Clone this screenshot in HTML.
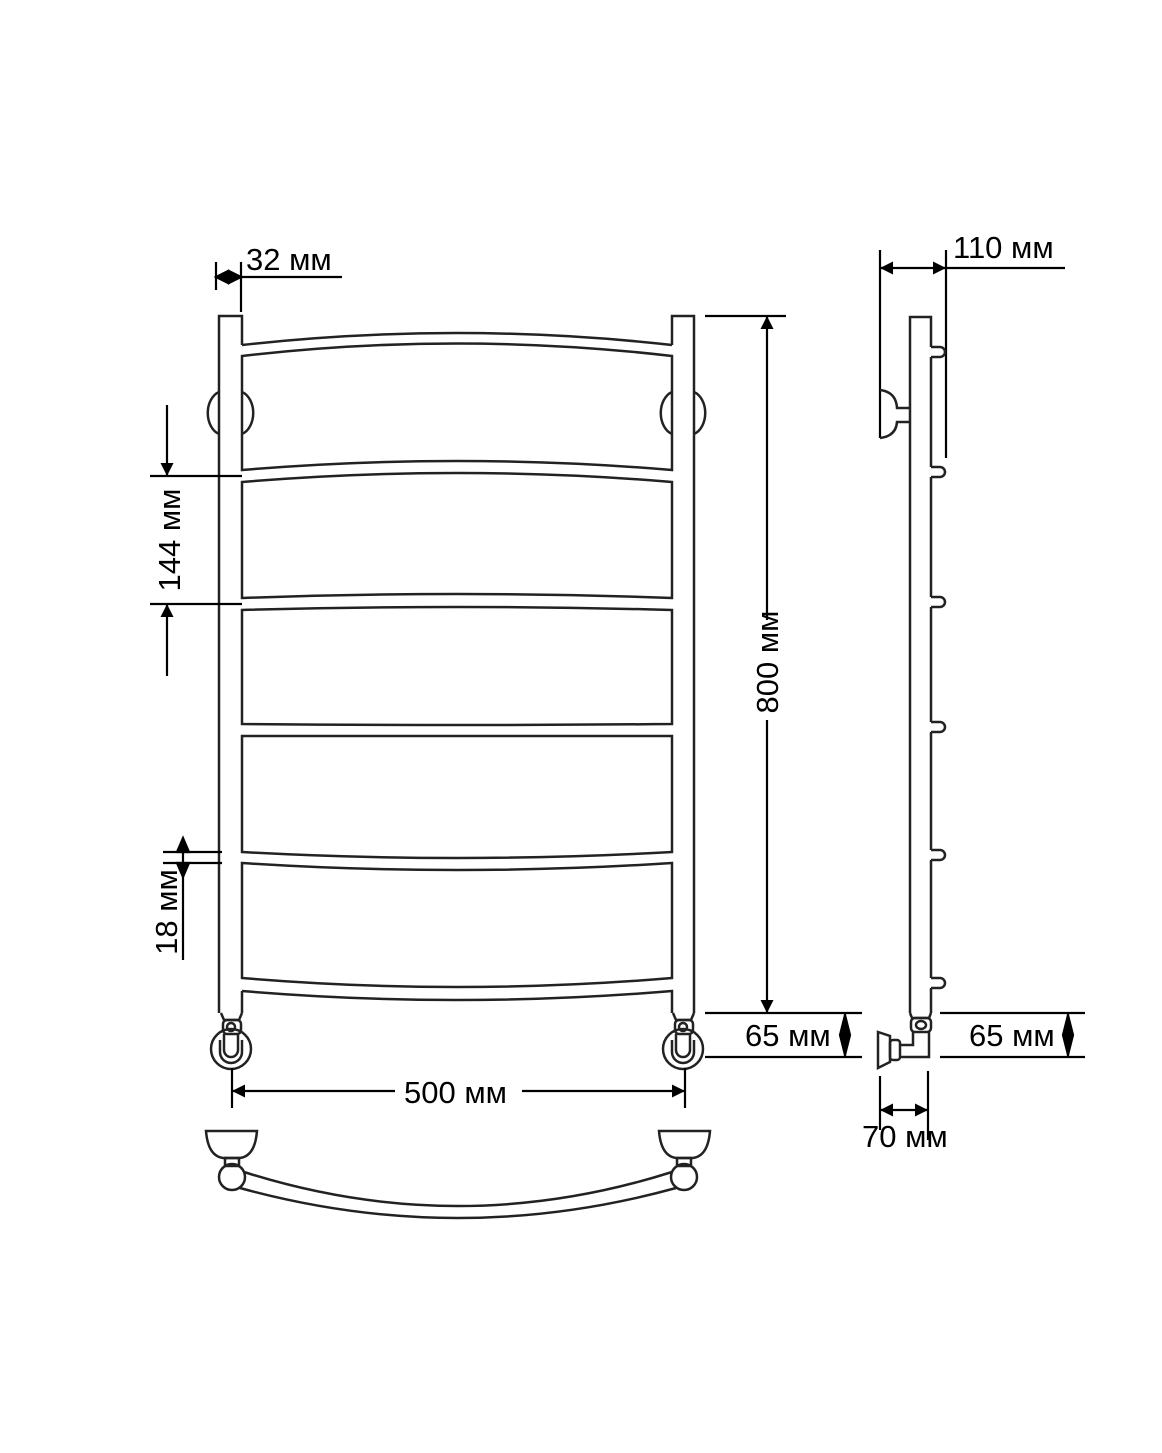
<!DOCTYPE html>
<html><head><meta charset="utf-8"><style>html,body{margin:0;padding:0;background:#fff}svg{display:block}text{font-family:"Liberation Sans",sans-serif;fill:#000}</style></head>
<body>
<svg width="1162" height="1453" viewBox="0 0 1162 1453" xmlns="http://www.w3.org/2000/svg">
<defs>
<marker id="a" viewBox="0 0 10 10" refX="10" refY="5" markerWidth="12" markerHeight="12" orient="auto-start-reverse" markerUnits="userSpaceOnUse"><path d="M0,0L10,5L0,10z" fill="#000"/></marker>
<marker id="b" viewBox="0 0 10 10" refX="10" refY="5" markerWidth="24" markerHeight="13" orient="auto-start-reverse" markerUnits="userSpaceOnUse"><path d="M0,0L10,5L0,10z" fill="#000"/></marker>
</defs>
<g fill="none" stroke="#222" stroke-width="2.5">
<path d="M219,1013 V316 H242 V345"/>
<path d="M694,1013 V316 H672 V345"/>
<path d="M242,345 Q457,321 672,345"/>
<path d="M242,356 Q457,331 672,356 V470 Q457,452 242,470 Z"/>
<path d="M242,482 Q457,464 672,482 V598 Q457,590 242,598 Z"/>
<path d="M242,610 Q457,604 672,610 V724 Q457,726 242,724 Z"/>
<path d="M242,736 Q457,736 672,736 V852 Q457,864 242,852 Z"/>
<path d="M242,863 Q457,877 672,863 V978 Q457,996 242,978 Z"/>
<path d="M242,991 Q457,1009 672,991 V1013"/>
<line x1="242" y1="991" x2="242" y2="1013"/>
<path d="M219,392 A16,22 0 0 0 219,434"/>
<path d="M242,392 A16,22 0 0 1 242,434"/>
<path d="M672,392 A16,22 0 0 0 672,434"/>
<path d="M694,392 A16,22 0 0 1 694,434"/>
<g id="v">
<path d="M221,1013 L224,1020 H239 L242,1013"/>
<rect x="223" y="1020" width="18" height="14" rx="4"/>
<circle cx="231" cy="1027" r="4"/>
<circle cx="231" cy="1049" r="20"/>
<path d="M224,1034 V1050 A7,7 0 0 0 238,1050 V1034"/>
<path d="M220,1040 V1052 A11,11 0 0 0 242,1052 V1040"/>
</g>
<use href="#v" transform="translate(452,0)"/>
<path d="M206,1131 H257 Q255,1156 240,1158 H223 Q208,1156 206,1131 Z"/>
<rect x="225" y="1158" width="14" height="8"/>
<circle cx="232" cy="1177" r="13"/>
<path d="M659,1131 H710 Q708,1156 693,1158 H676 Q661,1156 659,1131 Z"/>
<rect x="677" y="1158" width="14" height="8"/>
<circle cx="684" cy="1177" r="13"/>
<path d="M244,1172 Q458,1240 672,1172"/>
<path d="M240,1188 Q458,1248 676,1188"/>
</g>
<g stroke="#000" stroke-width="2.2" fill="none">
<line x1="216" y1="262" x2="216" y2="290"/><line x1="241" y1="262" x2="241" y2="312"/>
<path d="M216,277 L228,271 L228,283Z M241,277 L229,271 L229,283Z" fill="#000"/>
<line x1="216" y1="277" x2="342" y2="277"/>
<line x1="150" y1="476" x2="242" y2="476"/><line x1="150" y1="604" x2="242" y2="604"/>
<line x1="167" y1="405" x2="167" y2="476" marker-end="url(#b)"/>
<line x1="167" y1="676" x2="167" y2="604" marker-end="url(#b)"/>
<line x1="163" y1="852" x2="222" y2="852"/><line x1="163" y1="863" x2="222" y2="863"/>
<line x1="183" y1="838" x2="183" y2="960"/>
<path d="M183,838 L189,852 L177,852Z M183,877 L189,863 L177,863Z" fill="#000"/>
<line x1="705" y1="316" x2="786" y2="316"/>
<line x1="705" y1="1013" x2="862" y2="1013"/>
<line x1="705" y1="1057" x2="862" y2="1057"/>
<line x1="767" y1="620" x2="767" y2="316" marker-end="url(#b)"/>
<line x1="767" y1="720" x2="767" y2="1013" marker-end="url(#b)"/>
<line x1="845" y1="1013" x2="845" y2="1057"/>
<path d="M845,1015 L850,1035 L845,1055 L840,1035Z" fill="#000"/>
<line x1="232" y1="1068" x2="232" y2="1108"/><line x1="685" y1="1068" x2="685" y2="1108"/>
<line x1="395" y1="1091" x2="232" y2="1091" marker-end="url(#b)"/>
<line x1="522" y1="1091" x2="685" y2="1091" marker-end="url(#b)"/>
<line x1="880" y1="250" x2="880" y2="438"/><line x1="946" y1="250" x2="946" y2="458"/>
<line x1="913" y1="268" x2="880" y2="268" marker-end="url(#b)"/>
<line x1="913" y1="268" x2="946" y2="268" marker-end="url(#b)"/>
<line x1="946" y1="268" x2="1065" y2="268"/>
</g>
<g fill="none" stroke="#222" stroke-width="2.5">
<path d="M910,1013 V317 H931 V347 M931,357 V467 M931,477 V597 M931,607 V722 M931,732 V850 M931,860 V978 M931,988 V1013"/>
<path d="M931,347 H940 A5,5 0 0 1 940,357 H931"/>
<path d="M931,467 H940 A5,5 0 0 1 940,477 H931"/>
<path d="M931,597 H940 A5,5 0 0 1 940,607 H931"/>
<path d="M931,722 H940 A5,5 0 0 1 940,732 H931"/>
<path d="M931,850 H940 A5,5 0 0 1 940,860 H931"/>
<path d="M931,978 H940 A5,5 0 0 1 940,988 H931"/>
<path d="M880,390 Q896,392 897,408 H910 M910,422 H897 Q896,436 880,438"/>
<path d="M910,1013 L912,1018 H929 L931,1013"/>
<rect x="911" y="1018" width="20" height="14" rx="4"/><ellipse cx="921" cy="1025" rx="5" ry="4"/>
<path d="M913,1032 V1045 H899 M929,1032 V1057 H899"/>
<rect x="890" y="1040" width="10" height="20" rx="3"/>
<path d="M878,1032 L890,1036 V1062 L878,1068 Z"/>
</g>
<g stroke="#000" stroke-width="2.2" fill="none">
<line x1="880" y1="1076" x2="880" y2="1130"/><line x1="928" y1="1071" x2="928" y2="1140"/>
<line x1="904" y1="1110" x2="880" y2="1110" marker-end="url(#b)"/>
<line x1="904" y1="1110" x2="928" y2="1110" marker-end="url(#b)"/>
<line x1="940" y1="1013" x2="1085" y2="1013"/><line x1="940" y1="1057" x2="1085" y2="1057"/>
<line x1="1068" y1="1013" x2="1068" y2="1057"/>
<path d="M1068,1015 L1073,1035 L1068,1055 L1063,1035Z" fill="#000"/>
</g>
<g font-size="31">
<text x="246" y="270">32 мм</text>
<text x="953" y="258">110 мм</text>
<text x="404" y="1103">500 мм</text>
<text x="745" y="1046">65 мм</text>
<text x="969" y="1046">65 мм</text>
<text x="862" y="1147">70 мм</text>
<text transform="translate(180,540) rotate(-90)" text-anchor="middle">144 мм</text>
<text transform="translate(177,912) rotate(-90)" text-anchor="middle">18 мм</text>
<text transform="translate(778,662) rotate(-90)" text-anchor="middle">800 мм</text>
</g>
</svg>
</body></html>
